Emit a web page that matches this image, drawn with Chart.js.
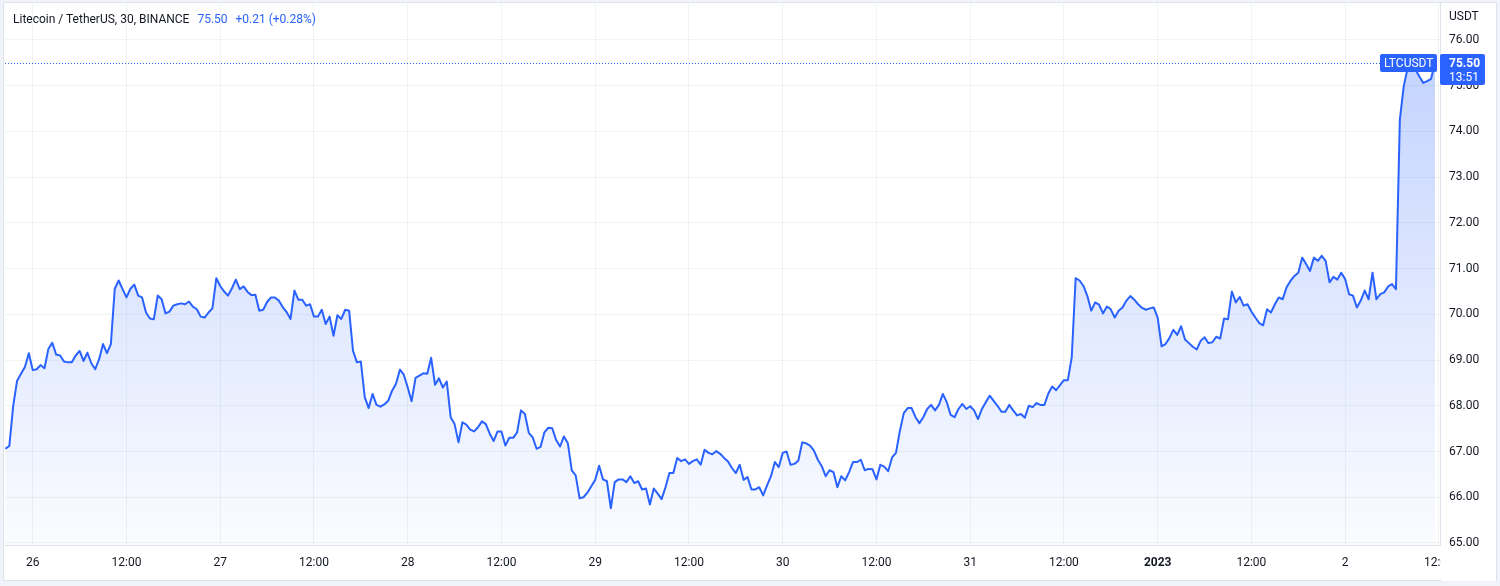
<!DOCTYPE html>
<html>
<head>
<meta charset="utf-8">
<title>Litecoin / TetherUS, 30, BINANCE</title>
<script src="https://cdn.jsdelivr.net/npm/chart.js@4.4.0/dist/chart.umd.min.js"></script>
<style>
    html, body { margin: 0; padding: 0; background: #ffffff; }
    #wrap { position: relative; width: 1500px; height: 586px; }
    #ltcChart { position: absolute; left: 0; top: 0; }
    #legend {
        position: absolute; left: 13px; top: 12px;
        font: 12px Roboto, sans-serif; color: #131722; white-space: nowrap;
    }
    #legend .val { color: #2962ff; margin-left: 5px; }
</style>
</head>
<body>
<div id="wrap">
    <canvas id="ltcChart" width="1500" height="586"></canvas>
    <div id="legend">Litecoin / TetherUS, 30, BINANCE <span class="val">75.50</span> <span class="val">+0.21 (+0.28%)</span></div>
</div>
<script>
// 30 minute closes, first bar Dec 25 20:30, last bar Jan 2 11:30
const prices = [
    67.06, 67.12, 68.0, 68.55, 68.7, 68.85, 69.15, 68.78, 68.8, 68.89,
    68.82, 69.24, 69.38, 69.12, 69.1, 68.97, 68.95, 68.95, 69.1, 69.2,
    68.98, 69.16, 68.93, 68.8, 69.02, 69.35, 69.15, 69.35, 70.56, 70.74,
    70.55, 70.37, 70.56, 70.65, 70.41, 70.37, 70.04, 69.91, 69.89, 70.41,
    70.33, 70.02, 70.06, 70.19, 70.22, 70.24, 70.22,
    70.28, 70.17, 70.11, 69.95, 69.93, 70.04, 70.13, 70.79, 70.62, 70.5,
    70.41, 70.57, 70.76, 70.55, 70.61, 70.49, 70.42, 70.43, 70.08, 70.1,
    70.27, 70.37, 70.37, 70.3, 70.16, 70.05, 69.9, 70.52, 70.32, 70.32,
    70.19, 70.22, 69.95, 69.95, 70.1, 69.79, 69.95, 69.53, 69.98, 69.9,
    70.1, 70.08, 69.2, 68.95, 68.97, 68.19,
    67.95, 68.26, 68.02, 67.98, 68.03, 68.11, 68.33, 68.48, 68.79, 68.68,
    68.4, 68.1, 68.61, 68.66, 68.71, 68.7, 69.05, 68.46, 68.6, 68.4,
    68.53, 67.75, 67.6, 67.2, 67.64, 67.59, 67.48, 67.44, 67.53, 67.66,
    67.6, 67.39, 67.23, 67.44, 67.44, 67.13, 67.3, 67.3, 67.42, 67.9,
    67.82, 67.41, 67.31, 67.06, 67.1, 67.42,
    67.52, 67.51, 67.25, 67.11, 67.33, 67.18, 66.59, 66.48, 65.98, 66.0,
    66.1, 66.24, 66.38, 66.69, 66.39, 66.35, 65.76, 66.33, 66.39, 66.39,
    66.33, 66.46, 66.31, 66.35, 66.17, 66.19, 65.84, 66.19, 66.08, 65.96,
    66.22, 66.53, 66.53, 66.86, 66.79, 66.83, 66.73, 66.79, 66.83, 66.71,
    67.04, 66.97, 66.94, 67.01, 66.95, 66.86,
    66.78, 66.64, 66.53, 66.71, 66.38, 66.44, 66.17, 66.17, 66.22, 66.04,
    66.26, 66.46, 66.77, 66.66, 66.97, 67.0, 66.71, 66.73, 66.8, 67.2,
    67.18, 67.13, 67.02, 66.82, 66.68, 66.46, 66.59, 66.55, 66.22, 66.46,
    66.37, 66.55, 66.77, 66.77, 66.82, 66.59, 66.62, 66.61, 66.39, 66.71,
    66.67, 66.57, 66.87, 66.97, 67.45, 67.84,
    67.95, 67.95, 67.75, 67.62, 67.75, 67.93, 68.02, 67.9, 68.02, 68.26,
    68.08, 67.8, 67.75, 67.93, 68.04, 67.93, 67.99, 67.9, 67.71, 67.93,
    68.08, 68.22, 68.11, 68.0, 67.87, 67.87, 68.02, 67.9, 67.79, 67.82,
    67.74, 68.0, 67.97, 68.06, 68.02, 68.02, 68.27, 68.42, 68.34, 68.45,
    68.56, 68.56, 69.06, 70.79, 70.74, 70.62,
    70.4, 70.08, 70.26, 70.21, 70.02, 70.17, 70.11, 69.93, 70.08, 70.15,
    70.3, 70.4, 70.32, 70.22, 70.14, 70.1, 70.13, 70.15, 69.93, 69.3,
    69.35, 69.48, 69.66, 69.55, 69.74, 69.45, 69.37, 69.29, 69.23, 69.42,
    69.5, 69.37, 69.39, 69.51, 69.47, 69.91, 69.89, 70.5, 70.26, 70.38,
    70.19, 70.22, 70.06, 69.93, 69.81, 69.76,
    70.11, 70.04, 70.22, 70.37, 70.33, 70.59, 70.73, 70.84, 70.91, 71.24,
    71.1, 70.95, 71.24, 71.17, 71.28, 71.17, 70.7, 70.82, 70.76, 70.91,
    70.77, 70.44, 70.41, 70.15, 70.3, 70.52, 70.33, 70.91, 70.33, 70.44,
    70.48, 70.61, 70.66, 70.55, 74.26, 74.99, 75.39, 75.65, 75.35, 75.2,
    75.06, 75.1, 75.15, 75.5
];

// time axis: first label "26" falls on bar 7, then one label every 24 bars
const timeLabels = ['26', '12:00', '27', '12:00', '28', '12:00', '29', '12:00',
    '30', '12:00', '31', '12:00', '2023', '12:00', '2', '12:00'];
const firstLabelBar = 7;
const barsPerLabel = 24;

const priceTicks = [65, 66, 67, 68, 69, 70, 71, 72, 73, 74, 75, 76];

const symbol = 'LTCUSDT';
const quoteCurrency = 'USDT';
const lastPrice = 75.50;
const barCountdown = '13:51';

const BLUE = '#2962ff';
const TEXT = '#131722';
const GRID = 'rgba(42, 46, 57, 0.06)';
const BORDER = '#e0e3eb';

document.addEventListener('DOMContentLoaded', function() {
    drawChart();
});

function areaGradient(context) {
    const chart = context.chart;
    const area = chart.chartArea;
    if (!area) return 'rgba(41, 98, 255, 0.1)';
    const g = chart.ctx.createLinearGradient(0, area.top + 50, 0, area.bottom);
    g.addColorStop(0, 'rgba(41, 98, 255, 0.28)');
    g.addColorStop(1, 'rgba(41, 98, 255, 0.02)');
    return g;
}

// no extra room for labels that stick out past the plot edges
function noLabelPadding(scale) {
    scale.paddingTop = 0;
    scale.paddingBottom = 0;
    scale.paddingLeft = 0;
    scale.paddingRight = 0;
}

const framePlugin = {
    id: 'frame',
    beforeDraw(chart) {
        const c = chart.ctx;
        c.save();
        c.fillStyle = '#f0f3fa';
        c.fillRect(0, 0, chart.width, chart.height);
        c.fillStyle = '#ffffff';
        c.fillRect(4, 3, 1492, 577);
        c.strokeStyle = BORDER;
        c.lineWidth = 1;
        c.strokeRect(3.5, 2.5, 1493, 578);
        c.restore();
    }
};

const priceLinePlugin = {
    id: 'priceLine',
    afterDatasetsDraw(chart) {
        const c = chart.ctx;
        const y = Math.round(chart.scales.y.getPixelForValue(lastPrice)) + 0.5;
        c.save();
        c.strokeStyle = BLUE;
        c.lineWidth = 1;
        c.setLineDash([1, 2]);
        c.beginPath();
        c.moveTo(chart.chartArea.left, y);
        c.lineTo(1380, y);
        c.stroke();
        c.restore();
    },
    afterDraw(chart) {
        const c = chart.ctx;
        const area = chart.chartArea;
        const y = Math.round(chart.scales.y.getPixelForValue(lastPrice));
        c.save();

        // hide the part of the last time label that runs under the price axis
        c.fillStyle = '#ffffff';
        c.fillRect(area.right + 1, area.bottom + 1, 55, 35);

        c.fillStyle = TEXT;
        c.font = '12px Roboto, sans-serif';
        c.textBaseline = 'middle';
        c.textAlign = 'left';
        c.fillText(quoteCurrency, 1449, 17);

        // symbol tag on the price line
        c.fillStyle = BLUE;
        c.beginPath();
        c.roundRect(1380, y - 9, 57, 18, 2);
        c.fill();
        c.fillStyle = '#ffffff';
        c.fillText(symbol, 1384, y + 1);

        // last price + countdown tag on the axis
        c.fillStyle = BLUE;
        c.beginPath();
        c.roundRect(area.right, y - 9, 45, 31, 2);
        c.fill();
        c.fillStyle = '#ffffff';
        c.font = 'bold 12px Roboto, sans-serif';
        c.fillText(lastPrice.toFixed(2), 1449, y + 1);
        c.font = '12px Roboto, sans-serif';
        c.fillText(barCountdown, 1449, y + 15);
        c.restore();
    }
};

function drawChart() {
    const ctx = document.getElementById('ltcChart').getContext('2d');
    const points = prices.map((v, i) => ({ x: i, y: v }));

    new Chart(ctx, {
        type: 'line',
        data: {
            datasets: [{
                data: points,
                borderColor: BLUE,
                borderWidth: 2,
                borderJoinStyle: 'round',
                pointRadius: 0,
                tension: 0,
                fill: 'start',
                backgroundColor: areaGradient
            }]
        },
        options: {
            responsive: false,
            animation: false,
            layout: {
                autoPadding: false,
                padding: { left: 5, right: 4, top: 3, bottom: 6 }
            },
            plugins: {
                legend: { display: false },
                tooltip: { enabled: false }
            },
            scales: {
                x: {
                    type: 'linear',
                    min: -0.1,
                    max: 367.28,
                    afterFit: scale => {
                        scale.height = 35;
                        noLabelPadding(scale);
                    },
                    afterBuildTicks: scale => {
                        scale.ticks = timeLabels.map((_, k) => ({ value: firstLabelBar + k * barsPerLabel }));
                    },
                    grid: { color: GRID, drawTicks: false },
                    border: { display: true, color: BORDER },
                    ticks: {
                        autoSkip: false,
                        maxRotation: 0,
                        padding: 11,
                        color: TEXT,
                        font: c => ({
                            family: 'Roboto',
                            size: 12,
                            weight: timeLabels[c.index] === '2023' ? 'bold' : 'normal'
                        }),
                        callback: (value, index) => timeLabels[index]
                    }
                },
                y: {
                    position: 'right',
                    min: 64.956,
                    max: 76.808,
                    afterFit: scale => {
                        scale.width = 56;
                        noLabelPadding(scale);
                    },
                    afterBuildTicks: scale => {
                        scale.ticks = priceTicks.map(v => ({ value: v }));
                    },
                    grid: { color: GRID, drawTicks: false },
                    border: { display: true, color: BORDER },
                    ticks: {
                        padding: 9,
                        color: TEXT,
                        font: { family: 'Roboto', size: 12 },
                        callback: value => value.toFixed(2)
                    }
                }
            }
        },
        plugins: [framePlugin, priceLinePlugin]
    });
}
</script>
</body>
</html>
